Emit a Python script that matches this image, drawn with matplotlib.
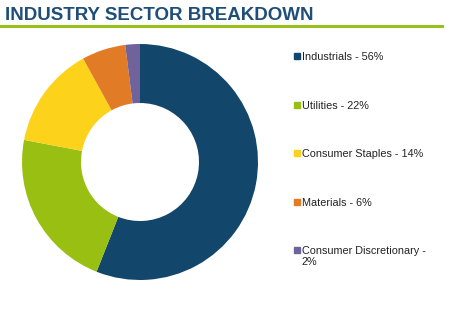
import matplotlib
matplotlib.use("Agg")
from matplotlib import pyplot as plt
from matplotlib.patches import Rectangle

plt.rcParams['font.family'] = ['Liberation Sans', 'DejaVu Sans']

# sector data
sectors = ["Industrials", "Utilities", "Consumer Staples", "Materials", "Consumer Discretionary"]
weights = [56, 22, 14, 6, 2]
colors = ["#13466b", "#99bf12", "#fdd21b", "#e27b26", "#70629a"]
legend_labels = ["Industrials - 56%", "Utilities - 22%", "Consumer Staples - 14%",
                 "Materials - 6%", "Consumer Discretionary -\n2%"]

W, H = 455, 327
fig = plt.figure(figsize=(W / 100, H / 100), dpi=100)

# title and green rule
fig.text(5 / W, 1 - 16 / H, "INDUSTRY SECTOR BREAKDOWN", fontsize=13.5, fontweight="bold",
         color="#1f4e79", va="center", ha="left")
fig.add_artist(plt.Line2D([0, 442 / W], [1 - 26 / H, 1 - 26 / H], color="#99c01a", lw=2.2))

# donut
ax = fig.add_axes([22 / W, 1 - 280 / H, 236 / W, 236 / H])
ax.pie(weights, colors=colors, startangle=90, counterclock=False, radius=1,
       wedgeprops=dict(width=0.5, edgecolor="none"))
ax.set_xlim(-1, 1)
ax.set_ylim(-1, 1)
ax.set_aspect("equal")
ax.axis("off")

# legend on the right
y0 = 56
step = 48.5
for i, (lab, col) in enumerate(zip(legend_labels, colors)):
    y = y0 + i * step
    fig.add_artist(Rectangle((294 / W, 1 - (y + 3) / H), 6 / W, 6 / H, color=col,
                             transform=fig.transFigure))
    fig.text(302 / W, 1 - (y - 4) / H, lab, fontsize=7.8, color="#222222", va="top",
             ha="left", linespacing=1.15)

fig.savefig("out.png", dpi=100)
